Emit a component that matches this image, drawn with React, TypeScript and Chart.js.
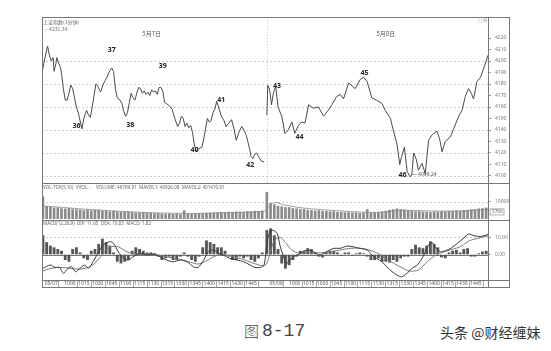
import React, { useEffect, useRef } from "react";
import { Chart, registerables } from "chart.js";
Chart.register(...registerables);

// ---------- price (1-minute index, two sessions) ----------
const day1Minutes = [0,2,4,6,8,10,12,13,15,16,18,20,21,23,25,27,29,31,33,35,37,39,41,43,45,47,48,50,52,54,56,58,60,63,66,68,70,72,75,77,79,81,84,86,88,90,92,94,96,98,100,102,104,106,108,110,112,114,116,118,120,122,124,126,128,130,132,134,137,140,143,146,148,150,152,154,156,158,160,162,164,166,169,172,174,176,178,180,182,184,186,188,190,193,196,198,201,204,207,209,212,215,218,220,223,225,227,229,231,233,236,239];
const day1Prices = [4190,4198,4206,4213,4205,4200,4203,4191,4198,4203,4198,4194,4189,4176,4166,4166,4172,4179,4176,4168,4160,4155,4148,4141,4150,4155,4157,4153,4151,4160,4170,4180,4178,4173,4180,4183,4186,4190,4194,4191,4176,4168,4166,4163,4156,4152,4155,4164,4172,4168,4166,4172,4177,4176,4172,4174,4171,4173,4170,4175,4173,4174,4171,4177,4177,4174,4164,4163,4161,4158,4150,4143,4146,4152,4150,4143,4146,4142,4144,4138,4127,4122,4124,4125,4132,4141,4150,4147,4148,4155,4158,4165,4160,4152,4148,4143,4146,4149,4140,4131,4138,4143,4139,4135,4125,4117,4115,4119,4120,4117,4113,4112];
const day2Minutes = [242,243,245,247,249,251.5,254,258,261.5,265,269,272,276,279.5,283,287,292,297.5,303,308,312,317,321,324.5,330,337,342.5,346,350,355,360,366,369.5,375,378,382,385,387,390,393,396,398,400,403,405,409,412.5,416,420,425,428,430.5,434,439.5,443,448.5,452,455.5,459,462,464.5,468,472,475.5,478,480];
const day2Prices = [4153,4179,4175,4162,4172,4178,4160,4152,4137,4140,4147,4137,4144,4147,4146,4162,4159,4160,4152,4157,4162,4169,4171,4167,4181,4176,4184,4186,4182,4168,4166,4163,4157,4150,4140,4128,4110,4117,4125,4104,4099.24,4101,4120,4114,4105,4111,4102,4131,4136,4139,4132,4121,4130,4134,4141,4152,4157,4169,4176,4172,4167,4182,4186,4194,4200,4205];
const dayBoundary = 242;

const priceTicks = [4100,4110,4120,4130,4140,4150,4160,4170,4180,4190,4200,4210,4220];
const priceGrid = [4100,4120,4140,4160,4180,4200];

const waveLabels = ["36","37","38","39","40","41","42","43","44","45","46"];
const waveLabelMinutes = [37,75,95,130,164,193,224,253,277,347,388];
const waveLabelPrices = [4143.5,4209.6,4144.3,4195.7,4122.9,4166.1,4109.6,4178.5,4134,4189.6,4100.9];
const dayLabels = ["5月7日","5月8日"];
const dayLabelMinutes = [118,370];

// ---------- volume (4-minute bars) ----------
const day1Volume = [12800,7200,6900,6400,6500,6000,5800,6100,5500,5400,5300,4900,5300,4800,5000,5100,4600,4500,4200,4600,4200,3900,3900,4200,3800,3500,3600,3700,3300,3300,3100,3200,2900,2800,3000,2700,2900,2600,4800,2700,3000,2900,3200,3100,3400,3300,3600,3500,3800,3600,3900,3800,4100,4000,3900,4300,4200,4500,4400,4700];
const day2Volume = [15500,9000,8300,7400,7100,6700,6600,6100,5900,5500,5500,5100,5000,4700,4900,4500,4500,4200,4300,3900,4000,3700,3800,3500,3600,3300,3500,5500,3300,3600,3700,4100,4500,5100,5500,5900,5500,5300,4700,4600,4200,4300,4000,4100,3800,4100,4000,4300,4200,4500,4400,4700,4600,5000,5100,5400,5500,5900,6000,6400];
const mavolMinutes = [0,20,40,80,120,160,200,239,242,250,260,280,320,360,390,420,460,480];
const mavolValues = [7500,6800,5900,4600,3600,3200,3700,4400,6000,9500,8200,6400,4700,3800,5000,4600,4800,5800];
const volumeTicks = [10000];

// ---------- MACD ----------
const day1Macd = [11,7,5,4,3,2,-3,-4,3,4,1,-2,-3,2,3,6,9,7,5,1,-4,-5,-4,-3,2,4,3,2,1,1,0.5,-1,-3,-2,-1,-3,-3,-1,1,-1,-3,-4,-1,4,8,7,6,4,4,2,-1,-3,-3,-1,-2,-1,-3,-4,-2,1];
const day2Macd = [14,15,11,3,-5,-8,-6,-3,-1,2,2,3.5,3,1,-1,-1.5,1,2,2,1,-0.5,1,1,-0.5,0.5,1,0.5,-1,-3,-3,-2,-4,-4,-4.5,-3,-4,-2,-1,-1,3,5.5,4,3.5,5,7.5,6,4,-1.5,-2,1,2,2.5,1,3,3.5,-1,-1,0.5,1.5,2];
const difMinutes = [1,9,14,19,23,28,32,36,41,46,50,55,61,66,73,77,82,88,93,98,106,113,120,127,134,141,149,156,163,168,174,179,185,190,195,202,210,217,224,229,235,239,243,247,253,256,260,263,267,272,278,285,292,299,306,314,321,328,335,342,350,355,360,366,371,377,382,387,393,398,404,411,416,420,423,429,434,440,447,454,459,465,472,480];
const difValues = [-8,-6.1,-7.5,-7.5,-10.9,-8,-7.1,-10,-8,-6.1,-8,-4.2,1.6,5.5,7.5,6.5,1.6,-2.2,-3.2,-1.3,0.7,-0.3,0.3,-1.3,-3.2,-4.2,-3.2,-4.2,-7.1,-7.5,-3.2,1.6,2.6,0.7,-0.3,-2.2,-3.2,-4.2,-6.1,-7.5,-7.5,-6.1,9.4,14.2,12.3,5.5,-1.3,-5.1,-3.2,-0.9,0.7,2.6,1.6,-0.3,1.6,3.6,3.6,4.9,4.5,3.6,2.6,-0.3,-2.2,-4.2,-7.1,-10,-11.9,-12.9,-10.9,-8,-6.1,-0.3,5.5,6.9,4.5,1.6,2.2,3.6,6.5,9.5,11.9,10.9,10.5,11.65];
const deaMinutes = [1,10,20,30,40,50,56,62,68,75,82,90,100,110,120,130,140,150,160,168,176,184,192,200,210,220,230,239,242,246,250,256,262,268,275,285,300,315,330,345,360,372,385,395,405,415,425,435,450,460,470,480];
const deaValues = [-9.5,-8,-7.5,-8,-8.5,-7.5,-5.5,-2,2,4.5,4.5,2,0,0,0,-0.8,-2,-3,-4.5,-5.5,-4,-1.5,0,-0.5,-1.8,-3.5,-5.5,-6.5,-5,2,8,10,7,3,1,1,1,2,3.5,3.5,1,-3,-7,-9.5,-9,-4,0,2,4.5,8,9.5,10.83];
const macdTicks = [0,10];

const timeTickMinutes = [10,30,45,60,75,90,105,120,135,150,165,180,195,210,225,252,272,287,302,317,332,347,362,377,392,407,422,437,452,467];
const timeTickLabels = ["05/07","1000","1015","1030","1045","1100","1115","1130","1315","1330","1345","1400","1415","1430","1445","05/08","1000","1015","1030","1045","1100","1115","1130","1315","1330","1345","1400","1415","1430","1445"];

const FONT = "'Noto Sans', 'Noto Sans CJK SC', sans-serif";
const CJK = "'Noto Sans CJK SC', sans-serif";
const AXIS_W = 21;

function rightAxis(min: number, max: number, ticks: number[], fmt: (v: number) => string) {
  return {
    type: "linear", position: "right", min, max,
    afterBuildTicks: (s: any) => { s.ticks = ticks.map((v) => ({ value: v })); },
    afterFit: (s: any) => { s.width = AXIS_W; s.paddingTop = 0; s.paddingBottom = 0; },
    ticks: { font: { size: 5, family: FONT }, color: "#777", padding: 4, callback: (v: any) => fmt(Number(v)) },
    grid: { drawOnChartArea: false, drawTicks: true, tickLength: 3, tickColor: "#999" },
    border: { display: false },
  };
}
const hiddenX = { type: "linear", min: 0, max: 480, display: false, offset: false };

function hLine(chart: any, v: number, color: string, dash: number[]) {
  const { ctx, chartArea: a, scales: { y } } = chart;
  const py = Math.round(y.getPixelForValue(v)) + 0.5;
  ctx.save();
  ctx.strokeStyle = color; ctx.lineWidth = 1; ctx.setLineDash(dash);
  ctx.beginPath(); ctx.moveTo(a.left, py); ctx.lineTo(a.right, py); ctx.stroke();
  ctx.restore();
}

const mainDecor = {
  id: "mainDecor",
  beforeDatasetsDraw(chart: any) {
    const { ctx, chartArea: a, scales: { x } } = chart;
    priceGrid.forEach((v) => hLine(chart, v, "#cfcfcf", [2, 2]));
    const bx = Math.round(x.getPixelForValue(dayBoundary)) + 0.5;
    ctx.save();
    ctx.strokeStyle = "#c4c4c4"; ctx.setLineDash([1, 2]);
    ctx.beginPath(); ctx.moveTo(bx, a.top); ctx.lineTo(bx, a.bottom); ctx.stroke();
    ctx.restore();
  },
  afterDatasetsDraw(chart: any) {
    const { ctx, chartArea: a, scales: { x, y } } = chart;
    ctx.save();
    ctx.textBaseline = "middle";
    ctx.fillStyle = "#666";
    ctx.font = `5px ${CJK}`;
    ctx.fillText("上证指数(1分钟)", a.left + 1, a.top + 5);
    ctx.fillText("┌ 4231.34", a.left + 1, a.top + 12);
    ctx.textAlign = "center";
    ctx.fillStyle = "#555";
    ctx.font = `6px ${CJK}`;
    dayLabels.forEach((t, i) => ctx.fillText(t, x.getPixelForValue(dayLabelMinutes[i]), y.getPixelForValue(4223.5)));
    ctx.fillStyle = "#222";
    ctx.font = `bold 7px ${FONT}`;
    waveLabels.forEach((t, i) => ctx.fillText(t, x.getPixelForValue(waveLabelMinutes[i]), y.getPixelForValue(waveLabelPrices[i])));
    ctx.textAlign = "left";
    ctx.font = `5px ${FONT}`;
    ctx.fillStyle = "#555";
    ctx.fillText("— 4099.24", x.getPixelForValue(398), y.getPixelForValue(4100.9));
    ctx.fillStyle = "#999";
    ctx.fillText("◻ ⊞", a.right - 10, a.top + 4);
    ctx.restore();
  },
};

const volDecor = {
  id: "volDecor",
  beforeDatasetsDraw(chart: any) { hLine(chart, 10000, "#cfcfcf", [2, 2]); },
  afterDatasetsDraw(chart: any) {
    const { ctx, chartArea: a, scales: { y } } = chart;
    ctx.save();
    ctx.textBaseline = "middle";
    ctx.fillStyle = "#666";
    ctx.font = `4.6px ${FONT}`;
    ctx.fillText("VOL-TDX(5,10)  VVOL: -    VOLUME: 46769.91  MAVOL1: 40926.08  MAVOL2: 401470.61", a.left + 1, a.top + 5);
    const py = y.getPixelForValue(day2Volume[day2Volume.length - 1]);
    ctx.strokeStyle = "#999"; ctx.lineWidth = 0.8;
    ctx.strokeRect(a.right + 2, py + 1, 14, 6);
    ctx.fillText("5766", a.right + 4, py + 4);
    ctx.restore();
  },
};

const macdDecor = {
  id: "macdDecor",
  beforeDatasetsDraw(chart: any) {
    hLine(chart, 10, "#d0d0d0", [2, 2]);
    hLine(chart, 0, "#777", []);
  },
  afterDraw(chart: any) {
    const { ctx, chartArea: a, scales: { x } } = chart;
    ctx.save();
    ctx.textBaseline = "middle";
    ctx.fillStyle = "#666";
    ctx.font = `4.6px ${FONT}`;
    ctx.fillText("MACD(12,26,9)  DIF: 11.65  DEA: 10.83  MACD: 1.82", a.left + 1, a.top + 4);
    // time axis row
    ctx.textAlign = "center";
    ctx.fillStyle = "#555";
    ctx.font = `5px ${FONT}`;
    timeTickMinutes.forEach((m, i) => ctx.fillText(timeTickLabels[i], x.getPixelForValue(m), a.bottom + 4));
    ctx.strokeStyle = "#aaa"; ctx.lineWidth = 1;
    timeTickMinutes.forEach((m) => {
      const px = Math.round(x.getPixelForValue(m) + 7) + 0.5;
      ctx.beginPath(); ctx.moveTo(px, a.bottom + 1); ctx.lineTo(px, a.bottom + 7); ctx.stroke();
    });
    ctx.restore();
  },
};

function toPoints(xs: number[], ys: number[]) { return xs.map((m, i) => ({ x: m, y: ys[i] })); }
function barPoints(vals: number[], start: number) { return vals.map((v, i) => ({ x: start + i * 4, y: v })); }

export default function App() {
  const mainRef = useRef<HTMLCanvasElement>(null);
  const volRef = useRef<HTMLCanvasElement>(null);
  const macdRef = useRef<HTMLCanvasElement>(null);

  useEffect(() => {
    const common = { responsive: false, animation: false, devicePixelRatio: 1, layout: { padding: 0 },
      plugins: { legend: { display: false }, tooltip: { enabled: false } } };

    const priceData = [...toPoints(day1Minutes, day1Prices), { x: 240, y: null }, ...toPoints(day2Minutes, day2Prices)];
    const main = new Chart(mainRef.current as any, {
      type: "line",
      data: { datasets: [{ data: priceData as any, borderColor: "#4a4a4a", borderWidth: 1, pointRadius: 0, tension: 0, spanGaps: false }] },
      options: { ...common, scales: { x: hiddenX, y: rightAxis(4093.9, 4238.3, priceTicks, (v) => String(v)) } } as any,
      plugins: [mainDecor],
    } as any);

    const vol = new Chart(volRef.current as any, {
      type: "bar",
      data: { datasets: [
        { type: "line", data: toPoints(mavolMinutes, mavolValues) as any, borderColor: "#888", borderWidth: 0.8, pointRadius: 0, tension: 0.3, order: 0 },
        { type: "bar", data: [...barPoints(day1Volume, 1), ...barPoints(day2Volume, 242)] as any, backgroundColor: "#8a8a8a", barThickness: 2, order: 1 },
      ] },
      options: { ...common, scales: { x: hiddenX, y: rightAxis(0, 20800, volumeTicks, (v) => String(v)) } } as any,
      plugins: [volDecor],
    } as any);

    const macd = new Chart(macdRef.current as any, {
      type: "bar",
      data: { datasets: [
        { type: "line", data: toPoints(difMinutes, difValues) as any, borderColor: "#3a3a3a", borderWidth: 1, pointRadius: 0, tension: 0.3, order: 0 },
        { type: "line", data: toPoints(deaMinutes, deaValues) as any, borderColor: "#7a7a7a", borderWidth: 1, pointRadius: 0, tension: 0.3, order: 0 },
        { type: "bar", data: [...barPoints(day1Macd, 1), ...barPoints(day2Macd, 242)] as any, backgroundColor: "#555", barThickness: 2.2, order: 1 },
      ] },
      options: { ...common, scales: {
        x: {
          type: "linear", min: 0, max: 480, offset: false, position: "bottom",
          afterFit: (s: any) => { s.height = 7; s.paddingLeft = 0; s.paddingRight = 0; },
          ticks: { display: false },
          grid: { display: false }, border: { display: false },
        },
        y: rightAxis(-14.8, 20.06, macdTicks, (v) => v.toFixed(2)),
      } } as any,
      plugins: [macdDecor],
    } as any);

    return () => { main.destroy(); vol.destroy(); macd.destroy(); };
  }, []);

  const line = (s: any) => <div style={{ position: "absolute", background: "#777", ...s }} />;

  return (
    <div style={{ position: "fixed", left: 0, top: 0, width: 551, height: 351, background: "#fff", overflow: "hidden" }}>
      <canvas ref={mainRef} width={467} height={166} style={{ position: "absolute", left: 42, top: 17, width: 467, height: 166 }} />
      <canvas ref={volRef} width={467} height={36} style={{ position: "absolute", left: 42, top: 183, width: 467, height: 36 }} />
      <canvas ref={macdRef} width={467} height={67} style={{ position: "absolute", left: 42, top: 220, width: 467, height: 67 }} />
      <div style={{ position: "absolute", left: 42, top: 17, width: 468, height: 271, border: "1px solid #777", boxSizing: "border-box" }} />
      {line({ left: 42, top: 183, width: 468, height: 1 })}
      {line({ left: 42, top: 220, width: 468, height: 1 })}
      {line({ left: 42, top: 280, width: 468, height: 1 })}
      {line({ left: 488, top: 17, width: 1, height: 270 })}
      <div style={{ position: "absolute", left: 244, top: 322, fontSize: 15, lineHeight: "18px", color: "#444", fontFamily: CJK, fontWeight: 300, whiteSpace: "nowrap" }}>图</div>
      <div style={{ position: "absolute", left: 262, top: 321, fontSize: 18, lineHeight: "20px", color: "#444", fontFamily: "'Liberation Mono', monospace", whiteSpace: "nowrap" }}>8-17</div>
      <div style={{ position: "absolute", left: 440, top: 324, fontSize: 14, lineHeight: "16px", color: "#333", fontFamily: CJK, whiteSpace: "nowrap" }}>头条 @财经缠妹</div>
    </div>
  );
}
